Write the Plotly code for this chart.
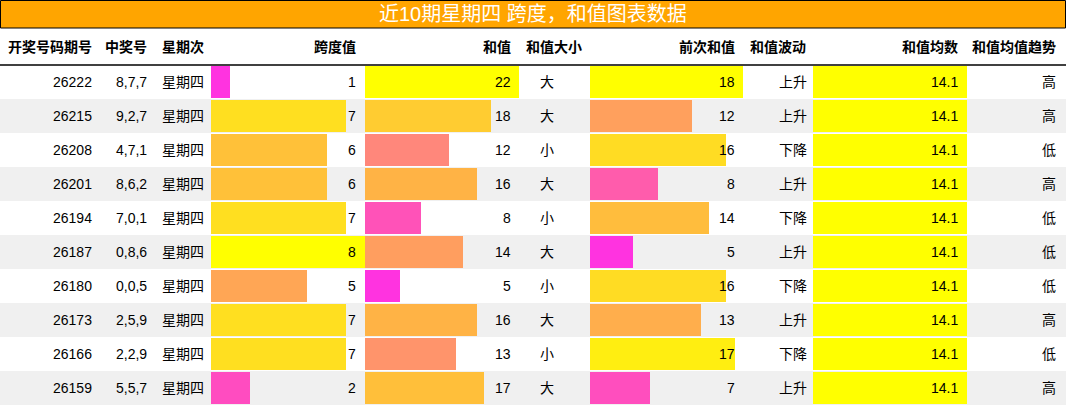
import plotly.graph_objects as go
from plotly.colors import sample_colorscale

periods = ["26222","26215","26208","26201","26194","26187","26180","26173","26166","26159"]
numbers = ["8,7,7","9,2,7","4,7,1","8,6,2","7,0,1","0,8,6","0,0,5","2,5,9","2,2,9","5,5,7"]
weekday = ["星期四"]*10
span = [1,7,6,6,7,8,5,7,7,2]
sums = [22,18,12,16,8,14,5,16,13,17]
size = ["大","大","小","大","小","大","小","大","小","大"]
prev_sum = [18,12,16,8,14,5,16,13,17,7]
trend = ["上升","上升","下降","上升","下降","上升","下降","上升","下降","上升"]
avg = [14.1]*10
avg_trend = ["高","高","低","高","低","低","低","高","低","高"]
headers = ["开奖号码期号","中奖号","星期次","跨度值","和值","和值大小","前次和值","和值波动","和值均数","和值均值趋势"]
title = "近10期星期四 跨度，和值图表数据"

W, H = 1066, 406
RH = 34
top = -0.5 - 65/RH
bot = -0.5 + (H-65)/RH
scale = [[0,"#FF33E0"],[0.25,"#FF5FA8"],[0.45,"#FF9070"],[0.65,"#FFB444"],[0.85,"#FFDD22"],[1,"#FFFF00"]]
def colors(vals):
    lo, hi = min(vals), max(vals)
    return sample_colorscale(scale, [(v-lo)/(hi-lo) if hi > lo else 1 for v in vals])

fig = go.Figure()
bar_cols = [(span, 211, 365, 8), (sums, 365, 519, 22), (prev_sum, 590, 743, 18), (avg, 813, 967, 14.1)]
n = len(periods)
rows = list(range(n))
for i, (vals, x0, x1, mx) in enumerate(bar_cols):
    ax = "x" if i == 0 else f"x{i+1}"
    fig.add_trace(go.Bar(y=rows, x=vals, orientation="h", width=0.97,
                         marker=dict(color=colors(vals), line=dict(width=0)),
                         xaxis=ax, yaxis="y", hoverinfo="skip"))
    key = "xaxis" if i == 0 else f"xaxis{i+1}"
    fig.layout[key] = dict(domain=[x0/W, x1/W], range=[0, mx], visible=False, fixedrange=True)
fig.update_layout(yaxis=dict(range=[bot, top], visible=False))

shapes = []
for r in rows:
    if r % 2 == 1:
        shapes.append(dict(type="rect", xref="paper", yref="y", x0=0, x1=1, y0=r-0.5, y1=r+0.5,
                           fillcolor="#F0F0F0", line=dict(width=0), layer="below"))
shapes.append(dict(type="rect", xref="paper", yref="paper", x0=0.5/W, x1=1-0.5/W, y0=1-28/H, y1=1-0.5/H,
                   fillcolor="#FFA500", line=dict(color="black", width=1)))
shapes.append(dict(type="line", xref="paper", yref="y", x0=0, x1=1, y0=-0.5, y1=-0.5,
                   line=dict(color="black", width=1.5)))

F = dict(family="Liberation Sans, Noto Sans CJK SC", size=14, color="black")
cols = [
    (periods, 94, "right"), (numbers, 149, "right"), (weekday, 183, "center"),
    ([str(v) for v in span], 358, "right"), ([str(v) for v in sums], 513, "right"),
    (size, 547, "center"), ([str(v) for v in prev_sum], 737, "right"),
    (trend, 793, "center"), ([str(v) for v in avg], 960, "right"), (avg_trend, 1058, "right")]
hdr_x = [(94,"right"),(149,"right"),(183,"center"),(358,"right"),(513,"right"),(554,"center"),
         (737,"right"),(778,"center"),(960,"right"),(1058,"right")]
ann = []
for (vals, x, anc) in cols:
    for r, v in enumerate(vals):
        ann.append(dict(xref="paper", yref="y", x=x/W, y=r, text=v, showarrow=False,
                        xanchor=anc, yanchor="middle", font=F))
for h, (x, anc) in zip(headers, hdr_x):
    ann.append(dict(xref="paper", yref="paper", x=x/W, y=1-47/H, text=f"<b>{h}</b>", showarrow=False,
                    xanchor=anc, yanchor="middle", font=F))
ann.append(dict(xref="paper", yref="paper", x=0.5, y=1-14/H, text=title, showarrow=False,
                xanchor="center", yanchor="middle",
                font=dict(family="Liberation Sans, Noto Sans CJK SC", size=20, color="white")))

fig.update_layout(width=W, height=H, margin=dict(l=0, r=0, t=0, b=0), showlegend=False,
                  plot_bgcolor="white", paper_bgcolor="white", bargap=0,
                  shapes=shapes, annotations=ann)
fig.write_html("out.html", config=dict(displayModeBar=False),
               post_script="document.body.style.margin='0';document.body.style.overflow='hidden';")
